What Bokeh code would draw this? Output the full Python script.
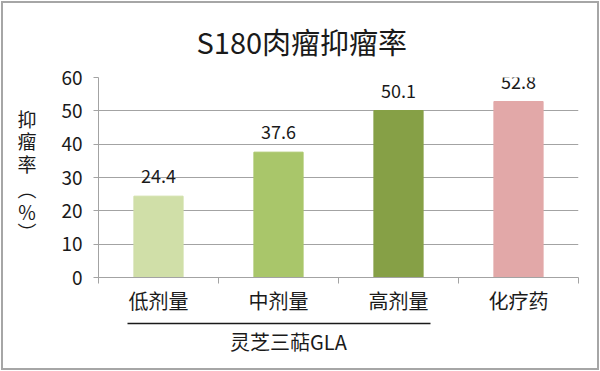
from bokeh.plotting import figure
from bokeh.models import Range1d, FixedTicker, LabelSet, ColumnDataSource, LinearAxis
from bokeh.core.properties import value
from bokeh.embed import file_html
from bokeh.resources import INLINE

# ---- data ----
title_text = "S180肉瘤抑瘤率"
categories = ["低剂量", "中剂量", "高剂量", "化疗药"]
values = [24.4, 37.6, 50.1, 52.8]
bar_colors = ["#d0dfa8", "#a9c66a", "#86a046", "#e2a8a8"]
group_label = "灵芝三萜GLA"
group_members = 3
y_ticks = [0, 10, 20, 30, 40, 50, 60]
y_label_chars = ["抑", "瘤", "率", "︵", "％", "︶"]

FONT = "Noto Sans CJK SC"
GRID = "#a3a3a3"
TXT = "#1a1a1a"

xs = [i + 0.5 for i in range(len(categories))]

p = figure(frame_width=480, frame_height=200, output_backend="svg", toolbar_location=None,
           x_range=Range1d(0, len(categories)), y_range=Range1d(0, 60),
           min_border_left=95, min_border_right=19, min_border_top=74, min_border_bottom=91)
p.styles = {"border": "2px solid #a6a6a6", "margin": "1px"}
p.outline_line_color = None
p.background_fill_color = "white"
p.border_fill_color = "white"

# title
p.title.text = title_text
p.title.align = "left"
p.title.offset = 98
p.title.vertical_align = "top"
p.title.text_font = FONT
p.title.text_font_size = "29px"
p.title.text_font_style = "normal"
p.title.text_color = TXT
p.title.standoff = 28

src = ColumnDataSource(dict(x=xs, top=values, color=bar_colors,
                            label=[f"{v:.1f}" for v in values]))
p.vbar(x="x", top="top", width=0.41, color="color", source=src)

# main x axis (categories)
p.xaxis.ticker = FixedTicker(ticks=xs, minor_ticks=list(range(len(categories) + 1)))
p.xaxis.major_label_overrides = {x: c for x, c in zip(xs, categories)}
p.xaxis.major_tick_line_color = None
p.xaxis.major_tick_out = 0
p.xaxis.major_tick_in = 0
p.xaxis.minor_tick_line_color = GRID
p.xaxis.minor_tick_out = 6
p.xaxis.minor_tick_in = 0
p.xaxis.axis_line_color = GRID
p.xaxis.major_label_text_font = FONT
p.xaxis.major_label_text_font_size = "20px"
p.xaxis.major_label_text_color = TXT
p.xaxis.major_label_standoff = 2
p.xaxis.axis_label = " "
p.xaxis.axis_label_text_font_size = "3px"
p.xaxis.axis_label_standoff = 0

# group axis (line + group label) below the categories
group_center = 1.583
gax = LinearAxis(ticker=FixedTicker(ticks=[group_center]),
                 major_label_overrides={group_center: group_label},
                 bounds=(0.242, group_members - 0.233))
gax.major_tick_line_color = None
gax.minor_tick_line_color = None
gax.major_tick_out = 0
gax.major_tick_in = 0
gax.axis_line_color = TXT
gax.axis_line_width = 1.5
gax.major_label_text_font = FONT
gax.major_label_text_font_size = "20px"
gax.major_label_text_color = TXT
gax.major_label_standoff = 3
p.add_layout(gax, "below")

# y axis
p.yaxis.ticker = FixedTicker(ticks=y_ticks)
p.yaxis.minor_tick_line_color = None
p.yaxis.major_tick_line_color = GRID
p.yaxis.major_tick_out = 5
p.yaxis.major_tick_in = 0
p.yaxis.axis_line_color = GRID
p.yaxis.major_label_text_font = FONT
p.yaxis.major_label_text_font_size = "19px"
p.yaxis.major_label_text_color = TXT
p.yaxis.major_label_standoff = 11

# stacked y-axis title as a second left axis
y_pos = [47.7, 41.1, 34.2, 26.7, 19.8, 13.8]
lax = LinearAxis(ticker=FixedTicker(ticks=y_pos),
                 major_label_overrides={yy: ch for yy, ch in zip(y_pos, y_label_chars)})
lax.axis_line_color = None
lax.major_tick_line_color = None
lax.minor_tick_line_color = None
lax.major_tick_out = 0
lax.major_tick_in = 0
lax.major_label_text_font = FONT
lax.major_label_text_font_size = "19px"
lax.major_label_text_color = TXT
lax.major_label_standoff = 22
p.add_layout(lax, "left")

p.xgrid.grid_line_color = None
p.ygrid.grid_line_color = GRID
p.ygrid.ticker = FixedTicker(ticks=y_ticks)

# data labels
p.add_layout(LabelSet(x="x", y="top", text="label", source=src, y_offset=20,
                      text_align="center", text_baseline="middle",
                      text_font=value(FONT), text_font_size=value("18px"),
                      text_color=TXT))

open("out.html", "w").write(file_html(p, INLINE))
